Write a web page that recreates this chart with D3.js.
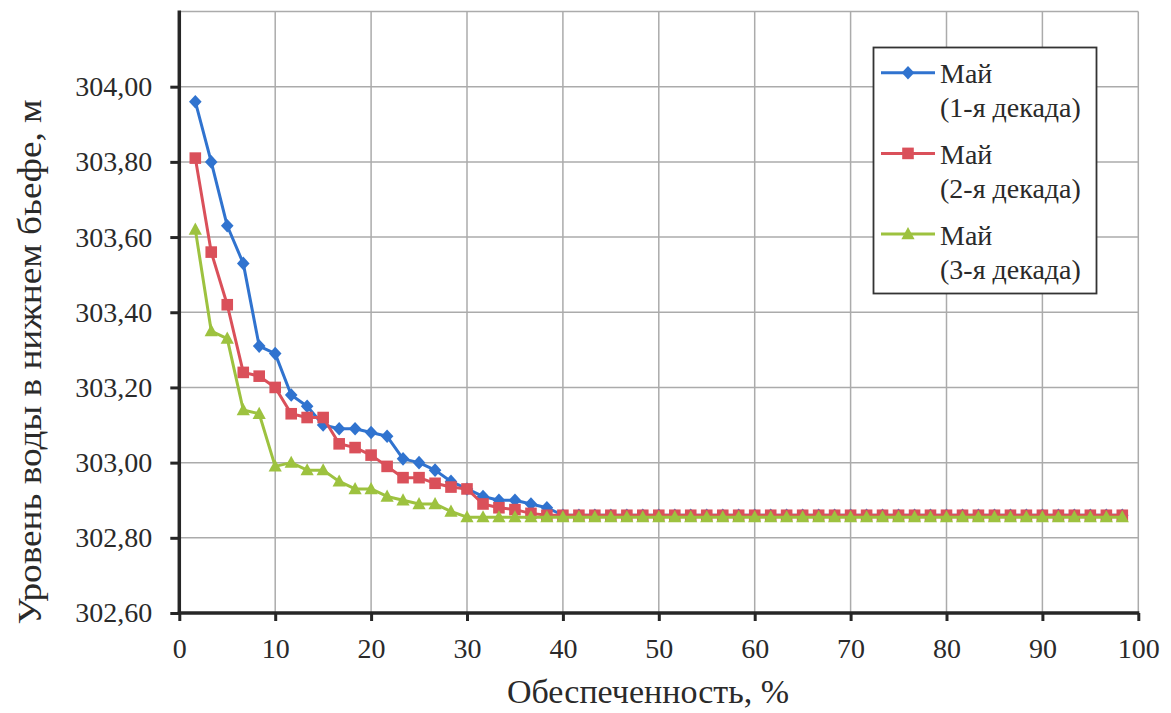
<!DOCTYPE html>
<html>
<head>
<meta charset="utf-8">
<script src="https://cdn.jsdelivr.net/npm/d3@7"></script>
<style>
  html, body { margin: 0; padding: 0; background: #ffffff; }
  svg { display: block; }
  text { font-family: "Liberation Serif", "Times New Roman", serif; fill: #2a2a2a; }
</style>
</head>
<body>
<svg id="chart" width="1171" height="713"></svg>
<script>
// ---------- data ----------
const seriesNames = ["Май", "Май", "Май"];
const seriesSub = ["(1-я декада)", "(2-я декада)", "(3-я декада)"];
const xTicks = [0, 10, 20, 30, 40, 50, 60, 70, 80, 90, 100];
const yTicks = [302.6, 302.8, 303.0, 303.2, 303.4, 303.6, 303.8, 304.0];
const yGrid = [302.8, 303.0, 303.2, 303.4, 303.6, 303.8, 304.0, 304.2];
const xTitle = "Обеспеченность, %";
const yTitle = "Уровень воды в нижнем бьефе, м";

// exceedance probability, % (point number / 60)
const prob = [1.67, 3.33, 5.00, 6.67, 8.33, 10.00, 11.67, 13.33, 15.00, 16.67,
  18.33, 20.00, 21.67, 23.33, 25.00, 26.67, 28.33, 30.00, 31.67, 33.33,
  35.00, 36.67, 38.33, 40.00, 41.67, 43.33, 45.00, 46.67, 48.33, 50.00,
  51.67, 53.33, 55.00, 56.67, 58.33, 60.00, 61.67, 63.33, 65.00, 66.67,
  68.33, 70.00, 71.67, 73.33, 75.00, 76.67, 78.33, 80.00, 81.67, 83.33,
  85.00, 86.67, 88.33, 90.00, 91.67, 93.33, 95.00, 96.67, 98.33];

const may1 = [303.96, 303.80, 303.63, 303.53, 303.31, 303.29, 303.18, 303.15, 303.10, 303.09,
  303.09, 303.08, 303.07, 303.01, 303.00, 302.98, 302.95, 302.93, 302.91, 302.90,
  302.90, 302.89, 302.88, 302.86, 302.86, 302.86, 302.86, 302.86, 302.86, 302.86,
  302.86, 302.86, 302.86, 302.86, 302.86, 302.86, 302.86, 302.86, 302.86, 302.86,
  302.86, 302.86, 302.86, 302.86, 302.86, 302.86, 302.86, 302.86, 302.86, 302.86,
  302.86, 302.86, 302.86, 302.86, 302.86, 302.86, 302.86, 302.86, 302.86];

const may2 = [303.81, 303.56, 303.42, 303.24, 303.23, 303.20, 303.13, 303.12, 303.12, 303.05,
  303.04, 303.02, 302.99, 302.96, 302.96, 302.945, 302.935, 302.93, 302.89, 302.88,
  302.875, 302.865, 302.86, 302.86, 302.86, 302.86, 302.86, 302.86, 302.86, 302.86,
  302.86, 302.86, 302.86, 302.86, 302.86, 302.86, 302.86, 302.86, 302.86, 302.86,
  302.86, 302.86, 302.86, 302.86, 302.86, 302.86, 302.86, 302.86, 302.86, 302.86,
  302.86, 302.86, 302.86, 302.86, 302.86, 302.86, 302.86, 302.86, 302.86];

const may3 = [303.62, 303.35, 303.33, 303.14, 303.13, 302.99, 303.00, 302.98, 302.98, 302.95,
  302.93, 302.93, 302.91, 302.90, 302.89, 302.89, 302.87, 302.855, 302.855, 302.855,
  302.855, 302.855, 302.855, 302.855, 302.855, 302.855, 302.855, 302.855, 302.855, 302.855,
  302.855, 302.855, 302.855, 302.855, 302.855, 302.855, 302.855, 302.855, 302.855, 302.855,
  302.855, 302.855, 302.855, 302.855, 302.855, 302.855, 302.855, 302.855, 302.855, 302.855,
  302.855, 302.855, 302.855, 302.855, 302.855, 302.855, 302.855, 302.855, 302.855];

// ---------- layout ----------
const colors = ["#3073cf", "#da505a", "#9dc23f"];
const markers = ["diamond", "square", "triangle"];
const svg = d3.select("#chart");

const x = d3.scaleLinear().domain([0, 100]).range([179.3, 1138.3]);
const y = d3.scaleLinear().domain([302.6, 304.2]).range([613, 11.5]);
const fmt = v => d3.format(".2f")(v).replace(".", ",");

// gridlines
const grid = svg.append("g");
grid.selectAll("line.h").data(yGrid).join("line")
  .attr("x1", x(0)).attr("x2", x(100))
  .attr("y1", d => y(d)).attr("y2", d => y(d))
  .attr("stroke", "#ababab").attr("stroke-width", 1.5);
grid.selectAll("line.v").data(xTicks.filter(d => d > 0)).join("line")
  .attr("x1", d => x(d)).attr("x2", d => x(d))
  .attr("y1", y(304.2)).attr("y2", y(302.6))
  .attr("stroke", "#ababab").attr("stroke-width", 1.5);

// axes
const yAxis = svg.append("g").attr("transform", `translate(${x(0)},0)`)
  .call(d3.axisLeft(y).tickValues(yTicks).tickFormat(fmt).tickSize(9).tickPadding(18));
const xAxis = svg.append("g").attr("transform", `translate(0,${y(302.6)})`)
  .call(d3.axisBottom(x).tickValues(xTicks).tickFormat(d3.format("d")).tickSize(8).tickPadding(17));
[yAxis, xAxis].forEach(a => {
  a.attr("font-family", "Liberation Serif");
  a.select(".domain").remove();
  a.selectAll(".tick line").attr("stroke", "#262626").attr("stroke-width", 3);
  a.selectAll(".tick text").attr("font-size", 28).attr("font-family", "Liberation Serif").attr("fill", "#2a2a2a");
});
svg.append("line").attr("x1", x(0)).attr("x2", x(0)).attr("y1", y(304.2) - 1).attr("y2", y(302.6) + 1.5)
  .attr("stroke", "#262626").attr("stroke-width", 3.5);
svg.append("line").attr("x1", x(0) - 1.5).attr("x2", x(100) + 1).attr("y1", y(302.6)).attr("y2", y(302.6))
  .attr("stroke", "#262626").attr("stroke-width", 3.5);

// titles
svg.append("text").attr("x", 648).attr("y", 703).attr("text-anchor", "middle")
  .attr("font-size", 34).text(xTitle);
svg.append("text").attr("transform", "translate(41,362) rotate(-90)").attr("text-anchor", "middle")
  .attr("font-size", 33).attr("textLength", 525).attr("lengthAdjust", "spacingAndGlyphs").text(yTitle);

// markers
function markerPath(kind) {
  if (kind === "diamond") return "M0,-6.8L6.3,0L0,6.8L-6.3,0Z";
  if (kind === "square") return "M-5.8,-5.8H5.8V5.8H-5.8Z";
  return "M0,-7L6.6,5.2H-6.6Z";
}

const allSeries = [may1, may2, may3];
const line = d3.line().x(d => x(d[0])).y(d => y(d[1]));
allSeries.forEach((vals, k) => {
  const pts = prob.map((p, i) => [p, vals[i]]);
  const g = svg.append("g");
  g.append("path").attr("d", line(pts)).attr("fill", "none")
    .attr("stroke", colors[k]).attr("stroke-width", 3).attr("stroke-linejoin", "round");
  g.selectAll("path.m").data(pts).join("path").attr("class", "m")
    .attr("transform", d => `translate(${x(d[0])},${y(d[1])})`)
    .attr("d", markerPath(markers[k])).attr("fill", colors[k]);
});

// legend
const lg = svg.append("g");
lg.append("rect").attr("x", 873.5).attr("y", 47.5).attr("width", 223).attr("height", 246)
  .attr("fill", "#ffffff").attr("stroke", "#333").attr("stroke-width", 1.8);
seriesNames.forEach((name, k) => {
  const cy = 72.7 + k * 80.7;
  lg.append("line").attr("x1", 881).attr("x2", 935).attr("y1", cy).attr("y2", cy)
    .attr("stroke", colors[k]).attr("stroke-width", 3);
  lg.append("path").attr("transform", `translate(908,${cy})`).attr("d", markerPath(markers[k])).attr("fill", colors[k]);
  lg.append("text").attr("x", 940).attr("y", cy + 10.5).attr("font-size", 28).text(name);
  lg.append("text").attr("x", 940).attr("y", cy + 44.5).attr("font-size", 28).text(seriesSub[k]);
});
</script>
</body>
</html>
